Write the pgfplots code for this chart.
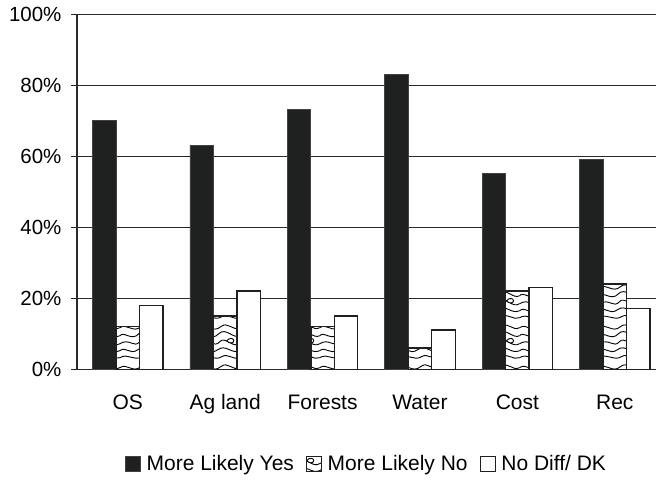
\documentclass[border=0pt]{standalone}
\usepackage{fontspec}
\setmainfont{Liberation Sans}
\usepackage{pgfplots}
\pgfplotsset{compat=1.18}
\usetikzlibrary{patterns}

\definecolor{barblack}{HTML}{1F2121}
\definecolor{gridgray}{HTML}{2A2A2A}

% shorthand for a curve segment inside the pattern
\newcommand\cseg[6]{\pgfpathcurveto{\pgfpoint{#1bp}{#2bp}}{\pgfpoint{#3bp}{#4bp}}{\pgfpoint{#5bp}{#6bp}}}
\newcommand\mv[2]{\pgfpathmoveto{\pgfpoint{#1bp}{#2bp}}}

% meandering contour-line fill for the "More Likely No" bars
\pgfdeclarepatternformonly{contour}{\pgfpoint{-1bp}{-1bp}}{\pgfpoint{41bp}{41bp}}{\pgfpoint{40bp}{40bp}}{
  \pgfsetlinewidth{0.9bp}
  \mv{0}{3}\cseg{8}{8}{14}{-1}{22}{4}\cseg{28}{8}{34}{0}{40}{3}
  \mv{0}{10}\cseg{6}{15}{10}{5}{18}{11}\cseg{26}{17}{32}{6}{40}{10}
  \mv{0}{17}\cseg{10}{23}{14}{12}{20}{19}\cseg{25}{25}{33}{12}{40}{17}
  \mv{0}{25}\cseg{4}{30}{12}{19}{19}{27}\cseg{26}{34}{34}{21}{40}{25}
  \mv{0}{33}\cseg{7}{38}{13}{27}{21}{34}\cseg{28}{40}{33}{29}{40}{33}
  \mv{27}{20}\cseg{29}{23}{34}{23}{34}{20}\cseg{34}{17}{29}{17}{27}{20}
  \pgfusepath{stroke}
}

\pgfplotstableread{
x  yes  no  dk
0  70   12  18
1  63   15  22
2  73   12  15
3  83    6  11
4  55   22  23
5  59   24  17
}\survey

\begin{document}
\begin{tikzpicture}
\begin{axis}[
  scale only axis,
  width=580bp, height=355.5bp,
  ybar=0pt, bar width=23.5bp,
  xmin=-0.522, xmax=5.427,
  ymin=0, ymax=100,
  xtick={0,...,5},
  xticklabels={OS, Ag land, Forests, Water, Cost, Rec},
  ytick={0,20,...,100},
  yticklabels={0\%,20\%,40\%,60\%,80\%,100\%},
  axis x line*=bottom, axis y line*=left,
  axis line style={-, line width=1.2bp, color=gridgray},
  ymajorgrids,
  grid style={line width=0.9bp, gridgray},
  tick align=outside,
  major tick length=6bp,
  x tick style={draw=none},
  y tick style={line width=0.9bp, gridgray},
  xticklabel style={font=\fontsize{21bp}{25bp}\selectfont, anchor=base, yshift=-34.5bp},
  yticklabel style={font=\fontsize{20.5bp}{24bp}\selectfont, xshift=-6bp},
  legend style={draw=none, at={(0.5,-0.267)}, anchor=center,
    font=\fontsize{21bp}{25bp}\selectfont,
    /tikz/every even column/.append style={column sep=10bp}},
  legend columns=3,
  legend image code/.code={\draw[#1] (0bp,-7.5bp) rectangle (15bp,7.5bp); \path (18.5bp,0bp);},
]
\addplot[fill=barblack, draw=barblack!85!white, line width=0.8bp] table[x=x, y=yes] {\survey};
\addplot[fill=white, draw=barblack, line width=1.3bp, postaction={pattern=contour}] table[x=x, y=no] {\survey};
\addplot[fill=white, draw=barblack, line width=1.3bp] table[x=x, y=dk] {\survey};
\legend{More Likely Yes, More Likely No, No Diff/ DK}
\end{axis}
\path (-77bp,-111.5bp) rectangle (580bp,369.5bp);
\end{tikzpicture}
\end{document}
